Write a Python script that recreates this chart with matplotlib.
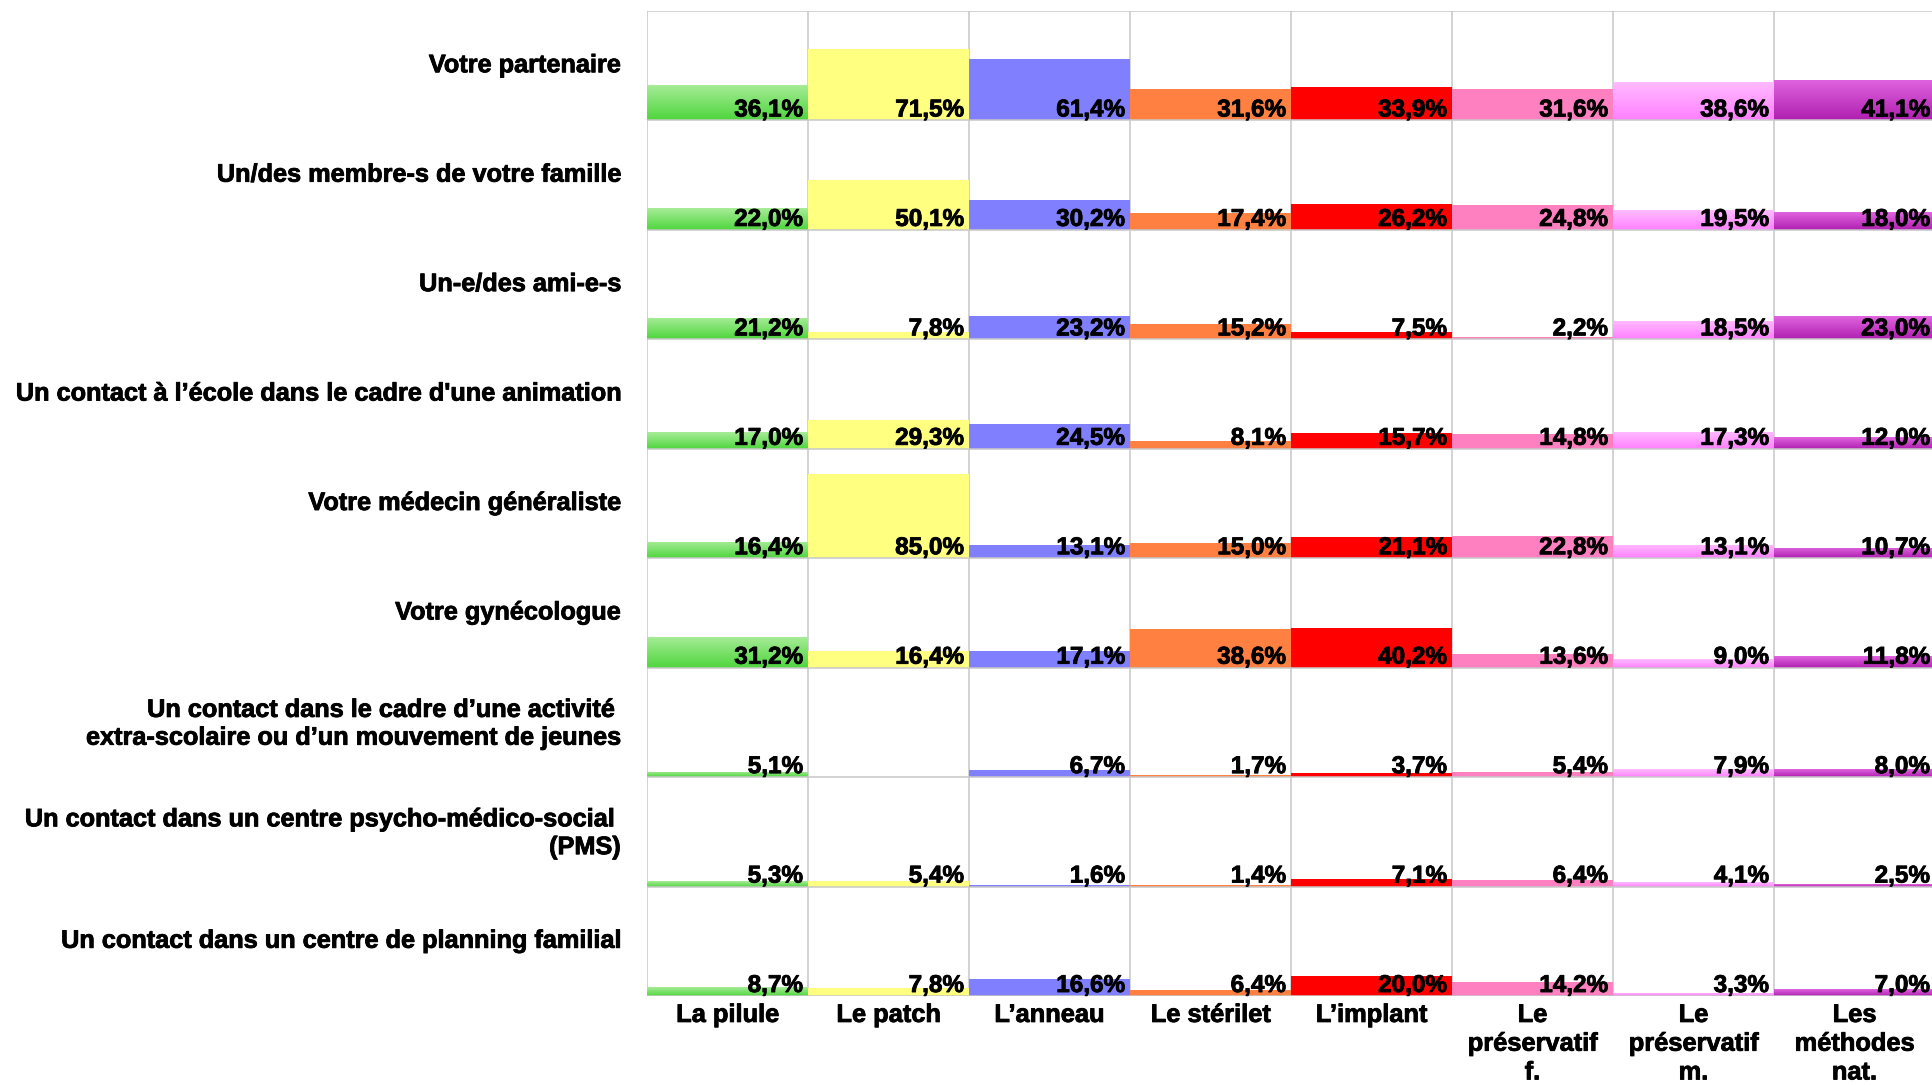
import numpy as np
import matplotlib
matplotlib.use("Agg")
import matplotlib.pyplot as plt
import matplotlib.patheffects as pe
from matplotlib.colors import LinearSegmentedColormap

plt.rcParams["font.family"] = ["Liberation Sans", "DejaVu Sans"]
plt.rcParams["font.weight"] = "bold"

# ── Data ─────────────────────────────────────────────────────────────────────
sources = [
    "Votre partenaire",
    "Un/des membre-s de votre famille",
    "Un-e/des ami-e-s",
    "Un contact à l’école dans le cadre d'une animation",
    "Votre médecin généraliste",
    "Votre gynécologue",
    "Un contact dans le cadre d’une activité \nextra-scolaire ou d’un mouvement de jeunes",
    "Un contact dans un centre psycho-médico-social \n(PMS)",
    "Un contact dans un centre de planning familial",
]
methods = ["La pilule", "Le patch", "L’anneau", "Le stérilet", "L’implant",
           "Le\npréservatif\nf.", "Le\npréservatif\nm.", "Les\nméthodes\nnat."]

pilule       = [36.1, 22.0, 21.2, 17.0, 16.4, 31.2, 5.1, 5.3, 8.7]
patch        = [71.5, 50.1, 7.8, 29.3, 85.0, 16.4, np.nan, 5.4, 7.8]
anneau       = [61.4, 30.2, 23.2, 24.5, 13.1, 17.1, 6.7, 1.6, 16.6]
sterilet     = [31.6, 17.4, 15.2, 8.1, 15.0, 38.6, 1.7, 1.4, 6.4]
implant      = [33.9, 26.2, 7.5, 15.7, 21.1, 40.2, 3.7, 7.1, 20.0]
preserv_f    = [31.6, 24.8, 2.2, 14.8, 22.8, 13.6, 5.4, 6.4, 14.2]
preserv_m    = [38.6, 19.5, 18.5, 17.3, 13.1, 9.0, 7.9, 4.1, 3.3]
methodes_nat = [41.1, 18.0, 23.0, 12.0, 10.7, 11.8, 8.0, 2.5, 7.0]

series = [pilule, patch, anneau, sterilet, implant, preserv_f, preserv_m, methodes_nat]

# flat colour or (top, bottom) gradient per method
FILLS = [
    ("#a8ec98", "#4fd63e"),
    "#ffff80",
    "#8080ff",
    "#ff8040",
    "#ff0000",
    "#ff80c0",
    ("#ffbcff", "#ff80ff"),
    ("#e064e0", "#b020b0"),
]
GRID = "#c8c8c8"
ROW_H = 110.0   # one row of the grid, in percent units
HEAVY = [pe.withStroke(linewidth=0.6, foreground="black")]

# ── Figure ───────────────────────────────────────────────────────────────────
fig = plt.figure(figsize=(19.33, 10.85), dpi=100)
ax = fig.add_axes([647 / 1933, 1 - 996 / 1085, 1288 / 1933, 985 / 1085])
n_rows = len(sources)

for col, (vals, fill) in enumerate(zip(series, FILLS)):
    for row, v in enumerate(vals):
        if np.isnan(v):
            continue
        base = (n_rows - 1 - row) * ROW_H
        flat = fill if isinstance(fill, str) else fill[1]
        bar = ax.bar(col, v, width=1.0, bottom=base, align="edge",
                     color=flat, linewidth=0, zorder=2)[0]
        if not isinstance(fill, str):
            cmap = LinearSegmentedColormap.from_list("g", [fill[1], fill[0]])
            grad = np.linspace(0, 1, 64)[:, None]
            im = ax.imshow(grad, cmap=cmap, aspect="auto", origin="lower",
                           extent=[bar.get_x(), bar.get_x() + bar.get_width(),
                                   bar.get_y(), bar.get_y() + bar.get_height()],
                           zorder=2.5, interpolation="bilinear")
            im.set_clip_path(bar)
        label = f"{v:.1f}".replace(".", ",") + "%"
        ax.text(col + 1 - 0.031, base + 4, label, ha="right", va="baseline",
                fontsize=17.5, fontweight="bold", color="black", zorder=4,
                path_effects=HEAVY)

# grid
for k in range(len(series) + 1):
    ax.axvline(k, color=GRID, lw=1.1, zorder=1)
for k in range(n_rows + 1):
    ax.axhline(k * ROW_H, color=GRID, lw=1.1, zorder=3)

ax.set_xlim(0, len(series))
ax.set_ylim(0, n_rows * ROW_H)
for spine in ax.spines.values():
    spine.set_visible(False)

ax.set_yticks([(n_rows - 1 - r) * ROW_H + ROW_H / 2 + 3 for r in range(n_rows)])
ax.set_yticklabels(sources, fontsize=18.2, fontweight="bold", linespacing=1.2,
                   path_effects=HEAVY)
ax.set_xticks(np.arange(len(series)) + 0.5)
ax.set_xticklabels(methods, fontsize=18.3, fontweight="bold", linespacing=1.25,
                   path_effects=HEAVY)
ax.tick_params(axis="y", length=0, pad=19)
ax.tick_params(axis="x", length=0, pad=5)

fig.savefig("out.png", dpi=100, facecolor="white")
